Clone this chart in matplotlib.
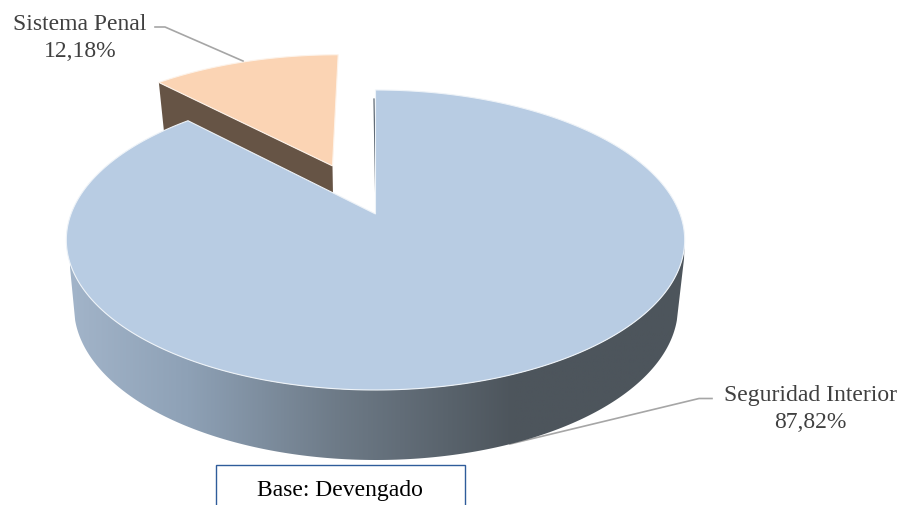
#!/usr/bin/env python
"""Torta 3D: gasto devengado por categoria."""

import matplotlib

matplotlib.use("Agg")
import matplotlib.pyplot as plt
import numpy as np
from matplotlib.colors import LinearSegmentedColormap
from matplotlib.patches import Polygon, Rectangle

categorias = ["Seguridad Interior", "Sistema Penal"]
valores = [87.82, 12.18]
nota = "Base: Devengado"

# proyeccion en perspectiva del disco unidad a pixeles
CX, CY = 375.5, 215.0
A, B, K = 304.5, 145.5, 0.1733
EXPLODE = 0.378
SHIFT = 2.5

C_MAIN = "#B8CCE3"
C_PEACH = "#FBD4B4"
C_BROWN = "#665445"
C_TEXT = "#404040"
C_LEADER = "#A6A6A6"
C_BOX = "#2F5C9A"


def top(u, v):
    w = 1 + K * v
    return CX + A * u / w, CY - B * v / w


def bottom(u, v):
    x, y = top(u, v)
    return 376 + (x - 376) * 0.975, y + 61 - 9 * v


def disc(theta):
    # theta en grados, horario desde las 12
    t = np.radians(theta)
    return np.sin(t), np.cos(t)


def etiqueta(nombre, valor):
    return f"{nombre}\n{valor:.2f}%".replace(".", ",")


plt.rcParams["font.family"] = ["Liberation Serif", "DejaVu Serif"]
fig = plt.figure(figsize=(9.07, 5.06), dpi=100)
ax = fig.add_axes([0, 0, 1, 1])
ax.set_xlim(0, 907)
ax.set_ylim(506, 0)
ax.axis("off")

sweep_main = 360 * valores[0] / sum(valores)

# porcion separada
mid = (sweep_main + 360) / 2
ox, oy = disc(mid)
ox, oy = ox * EXPLODE, oy * EXPLODE
tp = np.linspace(sweep_main, 360, 60)
up, vp = disc(tp)
up, vp = up + ox, vp + oy
xt, yt = top(ox, oy)
xl, yl = top(up[0], vp[0])
xb0, yb0 = bottom(ox, oy)
xb1, yb1 = bottom(up[0], vp[0])
ax.add_patch(Polygon([(xl - SHIFT, yl), (xt - SHIFT, yt), (xb0 - SHIFT, yb0), (xb1 - SHIFT, yb1)],
                     fc=C_BROWN, ec="none", zorder=2))
xa, ya = top(up, vp)
pts = [(xt - SHIFT, yt)] + list(zip(xa - SHIFT, ya))
ax.add_patch(Polygon(pts, fc=C_PEACH, ec="#FDF3EA", lw=0.8, zorder=3))

# pared de la porcion grande, con degradado; los lados bajan casi rectos
ts = np.linspace(100, 260, 200)
us, vs = disc(ts)
xa, ya = top(us, vs)
tb = np.linspace(95, 265, 200)
ub, vb = disc(tb)
xb, yb = 376 + 302 * ub, 308 - 153 * vb
contorno = list(zip(xa, ya)) + [(69, 258)] + list(zip(xb[::-1], yb[::-1])) + [(684, 260)]
wall = Polygon(contorno, fc="none", ec="none")
ax.add_patch(wall)
cmap = LinearSegmentedColormap.from_list(
    "pared",
    [(0.0, "#A2B4C9"), (0.19, "#8EA1B6"), (0.43, "#6E7B88"), (0.72, "#4D555C"), (1.0, "#4D555C")],
)
img = ax.imshow(np.linspace(0, 1, 256).reshape(1, -1), extent=(70, 686, 470, 200), cmap=cmap,
                aspect="auto", zorder=4)
img.set_clip_path(wall)
ax.set_xlim(0, 907)
ax.set_ylim(506, 0)

# pared interior
ax.plot([374, 376], [100, 215], color="#5A6570", lw=0.9, zorder=4.5)

# tapa de la porcion grande
tm = np.linspace(0, sweep_main, 300)
um, vm = disc(tm)
xa, ya = top(um, vm)
ax.add_patch(Polygon([(CX, CY)] + list(zip(xa, ya)), fc=C_MAIN, ec="#EEF3F8", lw=0.8, zorder=5))

# lineas guia
ax.plot([155, 165, 243], [28, 28, 62], color=C_LEADER, lw=1.2, zorder=6)
ax.plot([712, 699, 510], [399.5, 399.5, 445], color=C_LEADER, lw=1.2, zorder=3.5)

# etiquetas
ax.text(80, 38, etiqueta(categorias[1], valores[1]), ha="center", va="center", fontsize=17,
        color=C_TEXT, linespacing=1.42, zorder=7)
ax.text(810, 409, etiqueta(categorias[0], valores[0]), ha="center", va="center", fontsize=17,
        color=C_TEXT, linespacing=1.42, zorder=7)

# recuadro de nota
ax.add_patch(Rectangle((216, 466), 249, 60, fc="white", ec=C_BOX, lw=1, zorder=6))
ax.text(340, 491, nota, ha="center", va="center", fontsize=17, color="black", zorder=7)

fig.savefig("out.png", dpi=100)
